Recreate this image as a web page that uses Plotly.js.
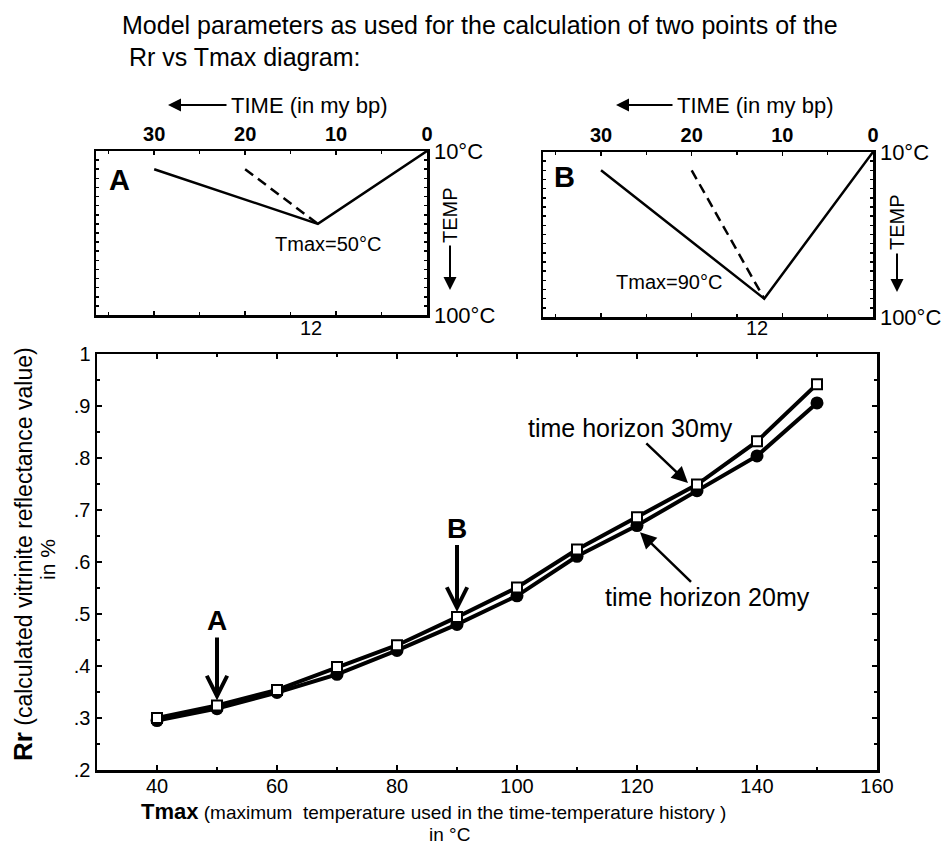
<!DOCTYPE html>
<html>
<head>
<meta charset="utf-8">
<script src="https://cdn.plot.ly/plotly-3.0.1.min.js"></script>
<style>
  html, body { margin: 0; padding: 0; background: #fff; }
  #chart { width: 941px; height: 854px; }
</style>
</head>
<body>
<div id="chart"></div>
<script>
// ---------- data ----------
const tmax = [40, 50, 60, 70, 80, 90, 100, 110, 120, 130, 140, 150];
const rr30my = [0.300, 0.324, 0.354, 0.398, 0.440, 0.494, 0.551, 0.624, 0.686, 0.749, 0.832, 0.942];
const rr20my = [0.295, 0.318, 0.349, 0.384, 0.430, 0.480, 0.535, 0.611, 0.670, 0.737, 0.804, 0.906];

const yTickVals = [0.2, 0.3, 0.4, 0.5, 0.6, 0.7, 0.8, 0.9, 1.0];
const yTickText = ['.2', '.3', '.4', '.5', '.6', '.7', '.8', '.9', '1'];
const xTickVals = [40, 60, 80, 100, 120, 140, 160];

// inset time-temperature histories (time in my bp, temperature in °C)
const timeSolid = [30, 12, 0];
const timeDashed = [20, 12];
const tempSolidA = [20, 50, 10];
const tempDashedA = [20, 50];
const tempSolidB = [20, 90, 10];
const tempDashedB = [20, 90];
const insetTimeTicks = [30, 20, 10, 0];
const insetTempTicks = [10, 100];
const insetTempText = ['10°C', '100°C'];

// ---------- helpers (positions only) ----------
const W = 941, H = 854;
const px = x => x / W;
const py = y => 1 - y / H;
const FONT = 'Liberation Sans, Arial, Helvetica, sans-serif';

const traces = [
  { x: tmax, y: rr20my, xaxis: 'x', yaxis: 'y', mode: 'lines+markers', name: 'time horizon 20my',
    line: { color: '#000', width: 4 },
    marker: { symbol: 'circle', size: 13, color: '#000' } },
  { x: tmax, y: rr30my, xaxis: 'x', yaxis: 'y', mode: 'lines+markers', name: 'time horizon 30my',
    line: { color: '#000', width: 4 },
    marker: { symbol: 'square', size: 10, color: '#fff', line: { color: '#000', width: 2 } } },
  // inset A
  { x: timeSolid, y: tempSolidA, xaxis: 'x2', yaxis: 'y2', mode: 'lines',
    line: { color: '#000', width: 2.5 } },
  { x: timeDashed, y: tempDashedA, xaxis: 'x2', yaxis: 'y2', mode: 'lines',
    line: { color: '#000', width: 2.5, dash: '10px,6px' } },
  // inset B
  { x: timeSolid, y: tempSolidB, xaxis: 'x3', yaxis: 'y3', mode: 'lines',
    line: { color: '#000', width: 2.5 } },
  { x: timeDashed, y: tempDashedB, xaxis: 'x3', yaxis: 'y3', mode: 'lines',
    line: { color: '#000', width: 2.5, dash: '10px,6px' } }
];

function insetX(domain, anchor) {
  return {
    domain: domain, anchor: anchor, side: 'top', range: [36.4, 0],
    tickvals: insetTimeTicks, ticks: 'inside', ticklen: 4, tickwidth: 1.5, tickcolor: '#000',
    minor: { dtick: 5, ticks: 'inside', ticklen: 3, tickcolor: '#000' },
    showline: true, linecolor: '#000', linewidth: 2.5, mirror: 'allticks',
    showgrid: false, zeroline: false, fixedrange: true,
    tickfont: { family: FONT, size: 20, color: '#000', weight: 'bold' }
  };
}
function insetY(domain, anchor) {
  return {
    domain: domain, anchor: anchor, side: 'right', range: [100, 10],
    tickvals: insetTempTicks, ticktext: insetTempText,
    ticks: 'inside', ticklen: 3, tickwidth: 1.5, tickcolor: '#000',
    minor: { dtick: 5, ticks: 'inside', ticklen: 3, tickcolor: '#000' },
    showline: true, linecolor: '#000', linewidth: 2.5, mirror: 'allticks',
    showgrid: false, zeroline: false, fixedrange: true,
    tickfont: { family: FONT, size: 22, color: '#000' }
  };
}

// paper-positioned text helper (explicit anchors)
function ptext(x, y, text, size, extra) {
  return Object.assign({ xref: 'paper', yref: 'paper', x: px(x), y: py(y), xanchor: 'center', yanchor: 'middle',
    showarrow: false, text: text, font: { family: FONT, size: size, color: '#000' } }, extra || {});
}
function parrow(x, y, ax, ay) {
  return { xref: 'paper', yref: 'paper', x: px(x), y: py(y), ax: ax, ay: ay, text: '', showarrow: true,
    arrowhead: 2, arrowsize: 1.3, arrowwidth: 2, arrowcolor: '#000' };
}

const annotations = [
  // main title
  ptext(120, 25, 'Model parameters as used for the calculation of two points of the', 25, { xanchor: 'left' }),
  ptext(120, 57, ' Rr vs Tmax diagram:', 25, { xanchor: 'left' }),

  // inset A decorations
  ptext(229, 105, 'TIME (in my bp)', 22, { xanchor: 'left' }),
  parrow(168, 105, 60, 0),
  ptext(119, 180, '<b>A</b>', 29),
  { xref: 'x2', yref: 'y2', x: 12, y: 50, xshift: 10, yshift: -20, showarrow: false,
    text: 'Tmax=50°C', font: { family: FONT, size: 20, color: '#000' } },
  { xref: 'x2', yref: 'paper', x: 12, y: py(328), xshift: -7, xanchor: 'center', yanchor: 'middle', showarrow: false,
    text: '12', font: { family: FONT, size: 20, color: '#000' } },
  ptext(450, 215, 'TEMP', 20, { textangle: -90 }),
  parrow(450, 290, 0, -46),

  // inset B decorations
  ptext(675, 105, 'TIME (in my bp)', 22, { xanchor: 'left' }),
  parrow(616, 105, 58, 0),
  ptext(564, 177, '<b>B</b>', 29),
  { xref: 'x3', yref: 'y3', x: 12, y: 90, xshift: -95, yshift: 17, showarrow: false,
    text: 'Tmax=90°C', font: { family: FONT, size: 20, color: '#000' } },
  { xref: 'x3', yref: 'paper', x: 12, y: py(328), xshift: -7, xanchor: 'center', yanchor: 'middle', showarrow: false,
    text: '12', font: { family: FONT, size: 20, color: '#000' } },
  ptext(897, 222, 'TEMP', 20, { textangle: -90 }),
  parrow(897, 292, 0, -40),

  // main plot markers A and B
  { xref: 'x', yref: 'y', x: tmax[1], y: rr30my[1], ax: 0, ay: -85, standoff: 5, showarrow: true,
    text: '<b>A</b>', font: { family: FONT, size: 28, color: '#000' },
    arrowhead: 5, arrowsize: 1, arrowwidth: 4, arrowcolor: '#000' },
  { xref: 'x', yref: 'y', x: tmax[5], y: rr30my[5], ax: 0, ay: -89, standoff: 5, showarrow: true,
    text: '<b>B</b>', font: { family: FONT, size: 28, color: '#000' },
    arrowhead: 5, arrowsize: 1, arrowwidth: 4, arrowcolor: '#000' },

  // series labels
  { xref: 'x', yref: 'y', x: 128.5, y: 0.752, ax: -58, ay: -55, showarrow: true,
    text: 'time horizon 30my', font: { family: FONT, size: 25, color: '#000' },
    arrowhead: 2, arrowsize: 1.3, arrowwidth: 2.5, arrowcolor: '#000' },
  { xref: 'x', yref: 'y', x: 120.5, y: 0.657, ax: 67, ay: 65, showarrow: true,
    text: 'time horizon 20my', font: { family: FONT, size: 25, color: '#000' },
    arrowhead: 2, arrowsize: 1.3, arrowwidth: 2.5, arrowcolor: '#000' },

  // axis titles
  ptext(433, 811, '<span style="font-size:22px"><b>Tmax</b></span> (maximum&nbsp; temperature used in the time-temperature history )', 19),
  ptext(449, 834, 'in °C', 19),
  ptext(23, 554, '<span style="font-size:26px"><b>Rr</b></span> (calculated vitrinite reflectance value)', 23, { textangle: -90 }),
  ptext(47, 560, 'in %', 21, { textangle: -90 })
];

const layout = {
  width: W, height: H,
  margin: { l: 0, r: 0, t: 0, b: 0 },
  paper_bgcolor: '#fff', plot_bgcolor: '#fff',
  showlegend: false,
  font: { family: FONT, color: '#000' },
  xaxis: {
    domain: [px(97), px(877)], anchor: 'y', range: [30, 160],
    tickvals: xTickVals, ticks: 'inside', ticklen: 5, tickwidth: 2, tickcolor: '#000',
    minor: { dtick: 10, ticks: 'inside', ticklen: 3, tickcolor: '#000' },
    showline: true, linecolor: '#000', linewidth: 2.5, mirror: 'allticks',
    showgrid: false, zeroline: false, fixedrange: true, ticklabelstandoff: -4,
    tickfont: { family: FONT, size: 20, color: '#000' }
  },
  yaxis: {
    domain: [1 - 770 / H, 1 - 354 / H], anchor: 'x', range: [0.2, 1.0],
    tickvals: yTickVals, ticktext: yTickText, ticks: 'inside', ticklen: 5, tickwidth: 2, tickcolor: '#000',
    minor: { dtick: 0.05, ticks: 'inside', ticklen: 3, tickcolor: '#000' },
    showline: true, linecolor: '#000', linewidth: 2.5, mirror: 'allticks',
    showgrid: false, zeroline: false, fixedrange: true,
    tickfont: { family: FONT, size: 20, color: '#000' }
  },
  xaxis2: insetX([px(96), px(427)], 'y2'),
  yaxis2: insetY([1 - 315 / H, 1 - 151 / H], 'x2'),
  xaxis3: insetX([px(543), px(873)], 'y3'),
  yaxis3: insetY([1 - 317 / H, 1 - 152 / H], 'x3'),
  annotations: annotations
};

Plotly.newPlot('chart', traces, layout, { displayModeBar: false, staticPlot: true });
</script>
</body>
</html>
